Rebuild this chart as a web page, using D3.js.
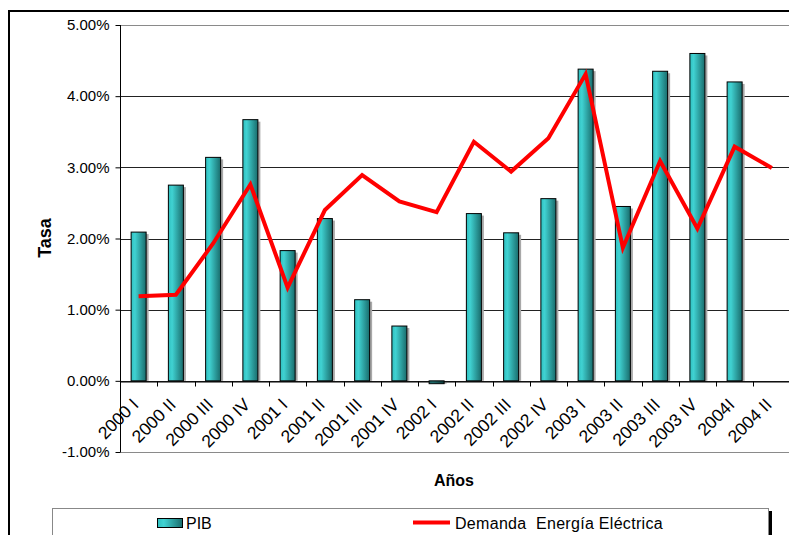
<!DOCTYPE html>
<html>
<head>
<meta charset="utf-8">
<script src="https://cdn.jsdelivr.net/npm/d3@7"></script>
<style>
  html, body { margin: 0; padding: 0; background: #fff; }
  svg { display: block; font-family: Arial, "Liberation Sans", sans-serif; }
</style>
</head>
<body>
<svg id="chart" width="789" height="535"></svg>
<script>
const categories = ["2000 I","2000 II","2000 III","2000 IV","2001 I","2001 II","2001 III","2001 IV","2002 I","2002 II","2002 III","2002 IV","2003 I","2003 II","2003 III","2003 IV","2004I","2004 II"];
const pib = [2.09, 2.75, 3.14, 3.67, 1.83, 2.28, 1.14, 0.77, -0.04, 2.35, 2.08, 2.56, 4.38, 2.45, 4.35, 4.60, 4.20, null];
const demanda = [1.19, 1.21, 1.93, 2.76, 1.31, 2.40, 2.89, 2.52, 2.37, 3.36, 2.94, 3.41, 4.31, 1.87, 3.09, 2.14, 3.29, 2.99];
const yTicks = [-1, 0, 1, 2, 3, 4, 5];
const seriesNames = ["PIB", "Demanda  Energía Eléctrica"];
const yTitle = "Tasa";
const xTitle = "Años";

(function () {
const svg = d3.select("#chart");
const W = 789, H = 535;
svg.append("rect").attr("width", W).attr("height", H).attr("fill", "#fff");

// outer frame
svg.append("rect").attr("x", 9).attr("y", 11).attr("width", 820).attr("height", 560)
  .attr("fill", "none").attr("stroke", "#000").attr("stroke-width", 2);

const pLeft = 120, pRight = 790.5, pTop = 25, pBottom = 452;
const x = d3.scaleBand().domain(categories).range([pLeft, pRight]).padding(0);
const y = d3.scaleLinear().domain([-1, 5]).range([pBottom, pTop]);

// gradient
const defs = svg.append("defs");
const grad = defs.append("linearGradient").attr("id", "barGrad").attr("x1", "0%").attr("x2", "100%").attr("y1", "0%").attr("y2", "0%");
grad.append("stop").attr("offset", "0%").attr("stop-color", "#2fc0c0");
grad.append("stop").attr("offset", "25%").attr("stop-color", "#40d2d2");
grad.append("stop").attr("offset", "100%").attr("stop-color", "#196c6c");

// gridlines
svg.append("g").selectAll("line").data(yTicks).join("line")
  .attr("x1", pLeft).attr("x2", pRight)
  .attr("y1", d => Math.round(y(d)) + 0.5).attr("y2", d => Math.round(y(d)) + 0.5)
  .attr("stroke", d => (d === 5 || d === -1) ? "#8a8a8a" : "#222")
  .attr("stroke-width", 1);

// y axis
const yAxis = d3.axisLeft(y).tickValues(yTicks).tickSize(5).tickPadding(6)
  .tickFormat(d => d.toFixed(2) + "%");
const gy = svg.append("g").attr("transform", `translate(${pLeft + 0.5},0)`).call(yAxis);
gy.select(".domain").attr("stroke", "#000").attr("d", `M0,${y(-1)}V${y(5)}`);
gy.selectAll(".tick line").attr("stroke", "#000");
gy.selectAll(".tick text").attr("font-size", 15).attr("fill", "#000")
  .attr("font-family", "Arial, 'Liberation Sans', sans-serif");

// bars
const bw = 15;
const barData = categories.map((c, i) => ({ c, v: pib[i] })).filter(d => d.v !== null);
const bars = svg.append("g");
bars.selectAll("rect.shadow").data(barData).join("rect").attr("class", "shadow")
  .attr("x", d => x(d.c) + x.bandwidth() / 2 - bw / 2 + 2.5)
  .attr("y", d => Math.min(y(d.v), y(0)) + 2)
  .attr("width", bw)
  .attr("height", d => Math.max(0, Math.abs(y(d.v) - y(0)) - 2))
  .attr("fill", "#a8a8a8");
bars.selectAll("rect.bar").data(barData).join("rect").attr("class", "bar")
  .attr("x", d => x(d.c) + x.bandwidth() / 2 - bw / 2)
  .attr("y", d => Math.min(y(d.v), y(0)))
  .attr("width", bw)
  .attr("height", d => Math.abs(y(d.v) - y(0)))
  .attr("fill", "url(#barGrad)")
  .attr("stroke", "#000").attr("stroke-width", 1);

// x axis at 0
const xAxis = d3.axisBottom(x).tickSize(0).tickFormat("");
const gx = svg.append("g").attr("transform", `translate(0,${Math.round(y(0)) + 0.5})`).call(xAxis);
gx.select(".domain").attr("stroke", "#000");
const bounds = categories.slice(1).map(c => x(c));
gx.selectAll("line.bt").data(bounds).join("line").attr("class", "bt")
  .attr("x1", d => Math.round(d) + 0.5).attr("x2", d => Math.round(d) + 0.5)
  .attr("y1", 0).attr("y2", 5).attr("stroke", "#000");

// x labels
svg.append("g").selectAll("text").data(categories).join("text")
  .attr("transform", d => `translate(${x(d) + x.bandwidth() / 2 + 1},${y(0) + 25}) rotate(-45)`)
  .attr("text-anchor", "end")
  .attr("font-size", 17.5)
  .attr("fill", "#000")
  .text(d => d);

// line
const line = d3.line().x((d, i) => x(categories[i]) + x.bandwidth() / 2).y(d => y(d));
svg.append("path").datum(demanda).attr("d", line)
  .attr("fill", "none").attr("stroke", "#ff0000").attr("stroke-width", 4)
  .attr("stroke-linejoin", "miter");

// titles
svg.append("text").attr("transform", `translate(51,238) rotate(-90)`)
  .attr("text-anchor", "middle").attr("font-weight", "bold").attr("font-size", 18).text(yTitle);
svg.append("text").attr("x", 454).attr("y", 486)
  .attr("text-anchor", "middle").attr("font-weight", "bold").attr("font-size", 16).text(xTitle);

// legend
const lg = svg.append("g");
lg.append("rect").attr("x", 769).attr("y", 511).attr("width", 3).attr("height", 40).attr("fill", "#000");
lg.append("rect").attr("x", 52.5).attr("y", 508.5).attr("width", 716).attr("height", 40)
  .attr("fill", "#fff").attr("stroke", "#888").attr("stroke-width", 1);
lg.append("rect").attr("x", 157.5).attr("y", 518.5).attr("width", 25).attr("height", 9)
  .attr("fill", "url(#barGrad)").attr("stroke", "#000");
lg.append("text").attr("x", 186).attr("y", 528.5).attr("font-size", 16).text(seriesNames[0]);
lg.append("line").attr("x1", 413).attr("x2", 450).attr("y1", 522.5).attr("y2", 522.5)
  .attr("stroke", "#ff0000").attr("stroke-width", 4);
lg.append("text").attr("x", 455).attr("y", 528.5).attr("font-size", 16).attr("letter-spacing", 0.3)
  .style("white-space", "pre").text(seriesNames[1]);
})();
</script>
</body>
</html>
